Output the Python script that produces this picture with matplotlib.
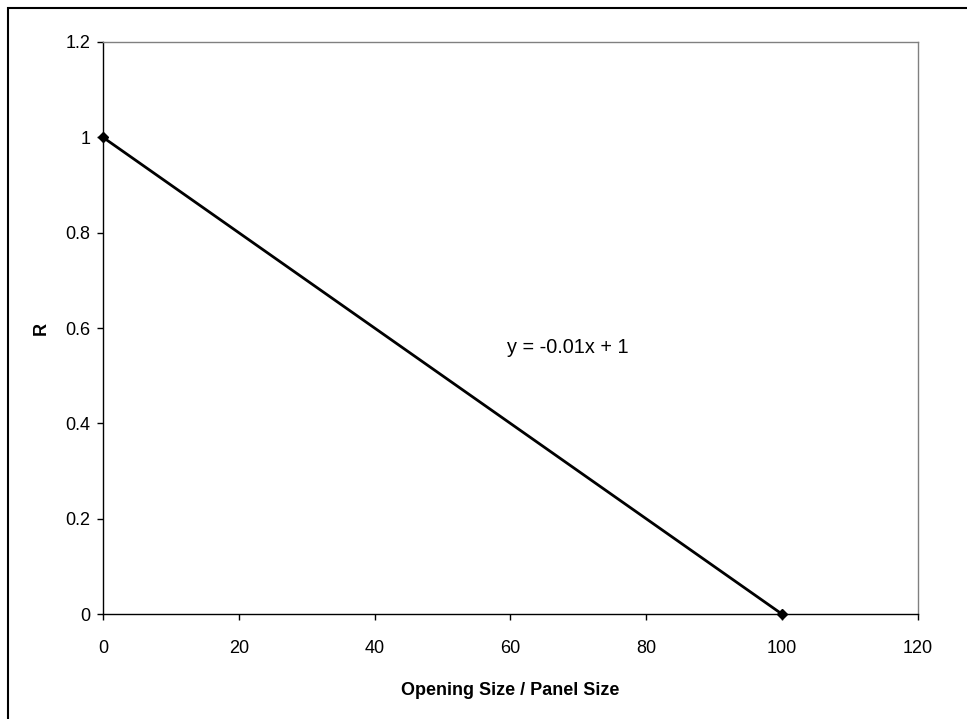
import matplotlib
matplotlib.use('Agg')
import matplotlib.pyplot as plt
from matplotlib.patches import Rectangle

# Data
x_vals = [0, 100]
r_vals = [1, 0]
x_ticks = [0, 20, 40, 60, 80, 100, 120]
y_ticks = [0, 0.2, 0.4, 0.6, 0.8, 1, 1.2]
y_tick_labels = ['0', '0.2', '0.4', '0.6', '0.8', '1', '1.2']
equation = 'y = -0.01x + 1'

plt.rcParams['font.family'] = ['Liberation Sans', 'DejaVu Sans']

fig = plt.figure(figsize=(9.67, 7.19), dpi=100)
ax = fig.add_axes([0.1065, 0.146, 0.8425, 0.7956])

ax.plot(x_vals, r_vals, color='black', linewidth=2, marker='D', markersize=5,
        clip_on=False, zorder=5)

ax.set_xlim(0, 120)
ax.set_ylim(0, 1.2)
ax.set_xticks(x_ticks)
ax.set_xticklabels([str(t) for t in x_ticks])
ax.set_yticks(y_ticks)
ax.set_yticklabels(y_tick_labels)
ax.tick_params(direction='out', length=4, width=1, labelsize=13, colors='black')
ax.tick_params(axis='x', pad=15)
ax.tick_params(axis='y', pad=5)

for side in ['left', 'bottom']:
    ax.spines[side].set_color('black')
    ax.spines[side].set_linewidth(1)
for side in ['top', 'right']:
    ax.spines[side].set_color('#808080')
    ax.spines[side].set_linewidth(1)

ax.set_xlabel('Opening Size / Panel Size', fontsize=13, fontweight='bold', labelpad=18)
ax.set_ylabel('R', fontsize=13, fontweight='bold', labelpad=11)

ax.text(59.5, 0.56, equation, fontsize=14.3, ha='left', va='center')

# outer chart border (cropped at right/bottom)
fig.patches.append(Rectangle((8 / 967, -0.1), 1.2, (711 / 719) + 0.1,
                             transform=fig.transFigure, fill=False,
                             edgecolor='black', linewidth=1.5))

fig.savefig('out.png', dpi=100)
